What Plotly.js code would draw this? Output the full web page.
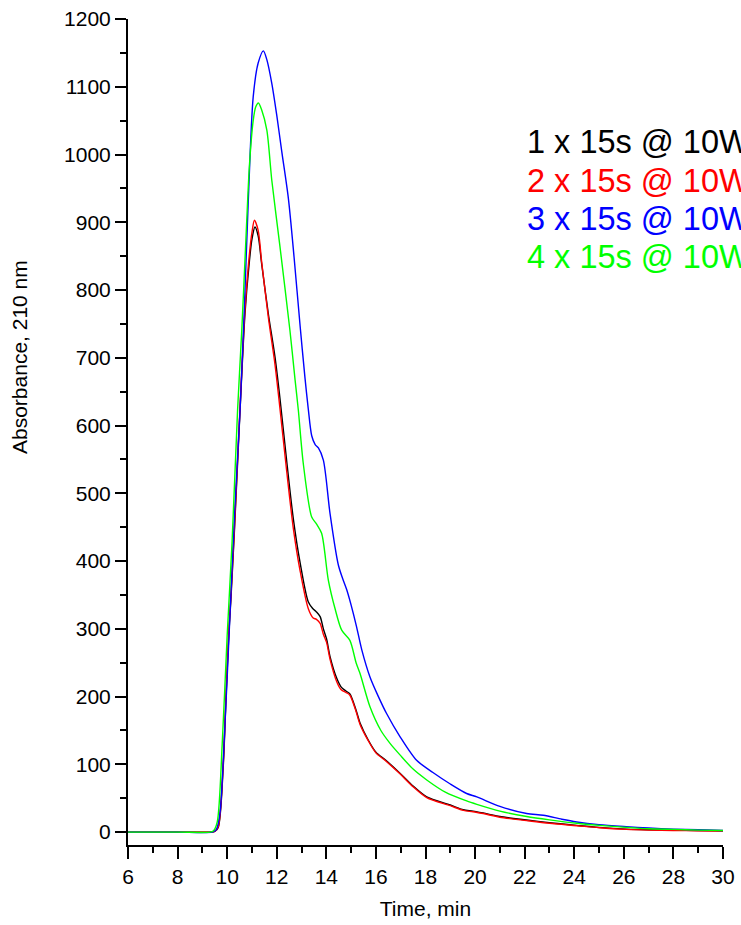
<!DOCTYPE html>
<html>
<head>
<meta charset="utf-8">
<script src="https://cdn.plot.ly/plotly-3.0.1.min.js"></script>
<style>html,body{margin:0;padding:0;background:#fff;}#chart{width:741px;height:925px;}</style>
</head>
<body>
<div id="chart"></div>
<script>
// Series names
const seriesNames = ["1 x 15s @ 10W", "2 x 15s @ 10W", "3 x 15s @ 10W", "4 x 15s @ 10W"];
const seriesColors = ["#000000", "#ff0000", "#0000ff", "#00ff00"];

// 1 x 15s (black)
const t1 = [6, 8, 9.3, 9.5, 9.64, 9.84, 9.95, 10.07, 10.15, 10.3, 10.52, 10.72, 10.89, 11.0, 11.12, 11.25, 11.39, 11.66, 11.93, 12.13, 12.4, 12.67, 12.94, 13.27, 13.45, 13.6, 13.75, 13.88, 14.01, 14.15, 14.42, 14.6, 14.8, 14.95, 15.2, 15.36, 15.69, 16.0, 16.4, 16.97, 17.5, 18.05, 19.0, 19.53, 19.92, 20.5, 21.0, 22.08, 23.0, 24.1, 25.0, 26.1, 27.0, 28.0, 29.0, 30.0];
const a1 = [0, 0, 0, 1, 7, 96, 195, 294, 343, 450, 623, 766, 840, 875, 893, 880, 839, 765, 701, 640, 548, 462, 398, 340, 330, 325, 318, 300, 285, 259, 227, 214, 208, 204, 180, 161, 136, 118, 106, 87, 68, 52, 40, 33, 31, 27, 23, 18, 14, 10, 7, 4.5, 3.5, 3, 2.5, 2];

// 2 x 15s (red)
const t2 = [6, 8, 9.3, 9.5, 9.64, 9.84, 9.95, 10.07, 10.15, 10.3, 10.52, 10.72, 10.89, 11.0, 11.1, 11.25, 11.39, 11.66, 11.93, 12.13, 12.4, 12.67, 12.94, 13.27, 13.47, 13.6, 13.75, 13.88, 14.01, 14.15, 14.42, 14.6, 14.8, 14.95, 15.2, 15.36, 15.69, 16.0, 16.4, 16.97, 17.5, 18.05, 19.0, 19.53, 19.92, 20.5, 21.0, 22.08, 23.0, 24.1, 25.0, 26.1, 27.0, 28.0, 29.0, 30.0];
const a2 = [0, 0, 0, 1, 8, 100, 200, 300, 348, 455, 628, 772, 850, 885, 903, 888, 842, 760, 690, 625, 533, 448, 386, 330, 316, 314, 308, 292, 280, 255, 222, 210, 206, 202, 178, 159, 135, 117, 105, 86, 67, 51, 39, 32, 30, 26, 22, 17, 13, 9.5, 6.5, 4, 3, 2.5, 2, 1.5];

// 3 x 15s (blue)
const t3 = [6, 8, 9.4, 9.55, 9.7, 9.9, 10.1, 10.3, 10.52, 10.7, 10.85, 11.05, 11.25, 11.46, 11.6, 11.8, 12.0, 12.2, 12.47, 12.7, 12.94, 13.14, 13.27, 13.41, 13.55, 13.68, 13.88, 14.15, 14.48, 14.65, 14.82, 15.0, 15.22, 15.43, 15.76, 16.1, 16.43, 16.97, 17.64, 18.3, 19.0, 19.66, 20.07, 21.0, 22.08, 22.75, 23.5, 24.1, 25.0, 26.1, 27.0, 28.0, 29.0, 30.0];
const a3 = [0, 0, 0, 3, 25, 150, 310, 470, 623, 780, 930, 1085, 1135, 1153, 1140, 1105, 1058, 1005, 935, 848, 748, 670, 625, 585, 572, 567, 549, 470, 395, 375, 358, 335, 303, 269, 229, 200, 175, 141, 106, 88, 71, 57, 52, 38, 27.5, 25, 19, 15, 11, 8, 6, 4.5, 3.5, 2.5];

// 4 x 15s (green)
const t4 = [6, 8, 9.3, 9.45, 9.6, 9.8, 10.0, 10.2, 10.42, 10.59, 10.75, 10.9, 11.05, 11.15, 11.26, 11.39, 11.6, 11.8, 12.13, 12.53, 12.74, 12.87, 13.07, 13.41, 13.6, 13.81, 14.08, 14.35, 14.62, 14.95, 15.2, 15.36, 15.76, 16.2, 16.57, 16.97, 17.5, 18.05, 18.8, 19.66, 20.07, 21.0, 22.08, 23.0, 24.1, 25.0, 26.1, 27.0, 28.0, 29.0, 30.0];
const a4 = [0, 0, 0, 2, 15, 130, 290, 430, 623, 741, 870, 985, 1050, 1070, 1076, 1066, 1036, 962, 864, 741, 667, 623, 544, 465, 455, 441, 372, 330, 298, 283, 250, 234, 185, 150, 131, 114, 93, 77, 59, 46, 41, 31, 23, 18, 13, 10, 7, 5, 4, 3, 2.5];

const xs = [t1, t2, t3, t4];
const ys = [a1, a2, a3, a4];

// Axis ticks and titles
const xTickVals = [6, 8, 10, 12, 14, 16, 18, 20, 22, 24, 26, 28, 30];
const yTickVals = [0, 100, 200, 300, 400, 500, 600, 700, 800, 900, 1000, 1100, 1200];
const xTitle = "Time, min";
const yTitle = "Absorbance, 210 nm";

const FONT = "Arial, 'Liberation Sans', sans-serif";

const traces = xs.map((x, i) => ({
  x: x, y: ys[i], type: "scatter", mode: "lines", name: seriesNames[i],
  line: {color: seriesColors[i], width: 1.4, shape: "spline", smoothing: 0.8},
  hoverinfo: "skip"
}));

const legendY = [0.851, 0.804, 0.758, 0.712];
const annotations = seriesNames.map((n, i) => ({
  text: n, xref: "paper", yref: "paper", x: 0.6666, y: legendY[i],
  xanchor: "left", yanchor: "middle", showarrow: false,
  font: {family: FONT, size: 32.5, color: seriesColors[i]}
}));
annotations.push({
  text: yTitle, xref: "paper", yref: "paper", x: -0.1815, y: 0.5908,
  xanchor: "center", yanchor: "middle", textangle: -90, showarrow: false,
  font: {family: FONT, size: 21, color: "#000"}
});

const layout = {
  width: 741, height: 925,
  margin: {l: 128, r: 18, t: 19, b: 80, pad: 0},
  paper_bgcolor: "#fff", plot_bgcolor: "#fff",
  showlegend: false,
  font: {family: FONT, color: "#000"},
  xaxis: {
    range: [6, 30], tickvals: xTickVals, ticktext: xTickVals.map(String),
    showgrid: false, zeroline: false, showline: true, linewidth: 2, linecolor: "#000",
    ticks: "outside", ticklen: 12, tickwidth: 2, tickcolor: "#000",
    minor: {dtick: 1, tick0: 6, ticks: "outside", ticklen: 6, tickwidth: 2, tickcolor: "#000", showgrid: false},
    tickfont: {family: FONT, size: 21, color: "#000"},
    title: {text: xTitle, font: {family: FONT, size: 21, color: "#000"}, standoff: 14}
  },
  yaxis: {
    range: [-19, 1200], tickvals: yTickVals, ticktext: yTickVals.map(String),
    showgrid: false, zeroline: false, showline: true, linewidth: 2, linecolor: "#000",
    ticks: "outside", ticklen: 11, tickwidth: 2, tickcolor: "#000",
    minor: {dtick: 50, tick0: 0, ticks: "outside", ticklen: 6, tickwidth: 2, tickcolor: "#000", showgrid: false},
    tickfont: {family: FONT, size: 21, color: "#000"}
  },
  annotations: annotations
};

Plotly.newPlot("chart", traces, layout, {staticPlot: true, displayModeBar: false});
</script>
</body>
</html>
